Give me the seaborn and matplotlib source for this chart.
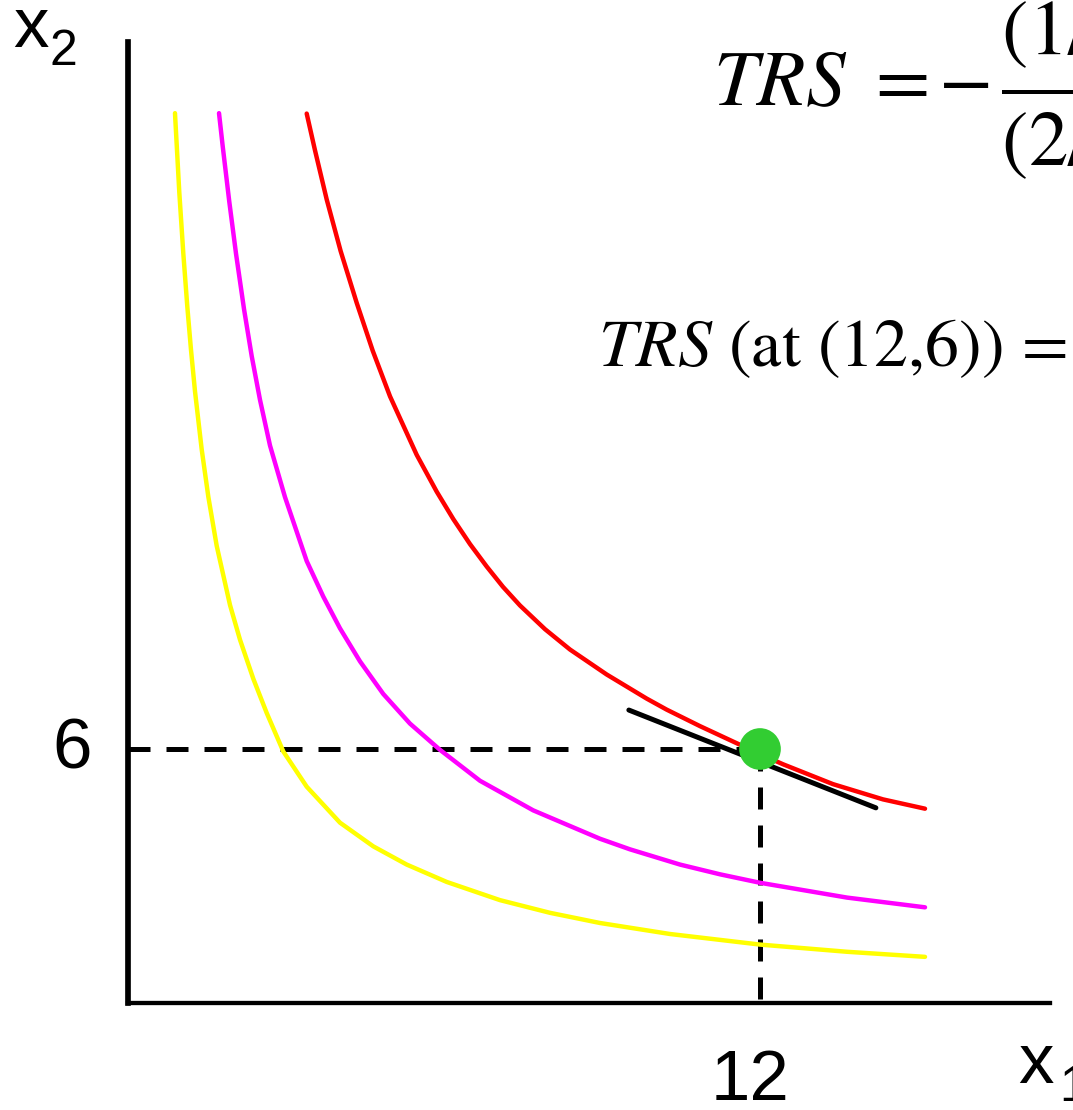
import matplotlib
matplotlib.use("Agg")
import matplotlib.pyplot as plt
from matplotlib.transforms import ScaledTranslation
import seaborn as sns
import pandas as pd

# Isoquants as (x1, x2) points along each curve
yellow_x1 = [0.892, 0.974, 1.050, 1.126, 1.196, 1.272, 1.399, 1.525, 1.684, 1.937,
             2.127, 2.379, 2.634, 2.949, 3.393, 4.025, 4.658, 5.292, 6.051, 7.063,
             8.013, 8.962, 10.291, 12.0, 13.652, 15.133]
yellow_x2 = [21.02, 19.15, 17.71, 16.45, 15.43, 14.45, 13.08, 11.96, 10.80, 9.40,
             8.58, 7.66, 6.85, 5.94, 5.11, 4.26, 3.70, 3.27, 2.86, 2.43,
             2.13, 1.89, 1.63, 1.38, 1.21, 1.09]

magenta_x1 = [1.728, 1.798, 1.923, 2.051, 2.203, 2.349, 2.506, 2.696, 2.981, 3.393,
              3.708, 4.025, 4.405, 4.847, 5.354, 5.924, 6.683, 7.695, 8.962, 9.531,
              10.481, 11.240, 12.0, 13.652, 15.133]
magenta_x2 = [21.02, 20.24, 18.93, 17.70, 16.39, 15.28, 14.25, 13.17, 11.95, 10.44,
              9.60, 8.85, 8.07, 7.30, 6.60, 5.98, 5.25, 4.55, 3.88, 3.63,
              3.27, 3.04, 2.84, 2.49, 2.26]

red_x1 = [3.393, 3.551, 3.773, 4.038, 4.342, 4.646, 4.975, 5.481, 5.861, 6.177,
          6.494, 6.811, 7.120, 7.443, 7.918, 8.392, 9.089, 9.849, 10.228, 10.861,
          12.0, 12.436, 13.386, 14.335, 15.133]
red_x2 = [21.01, 20.14, 18.98, 17.76, 16.54, 15.41, 14.33, 12.95, 12.08, 11.43,
          10.84, 10.31, 9.83, 9.39, 8.83, 8.35, 7.76, 7.19, 6.93, 6.54,
          5.88, 5.64, 5.17, 4.81, 4.59]

# Tangent segment at the chosen input bundle
tangent_x1 = [9.51, 14.20]
tangent_x2 = [6.92, 4.61]

point_x1 = 12
point_x2 = 6

xtick_values = [12]
xtick_labels = ["12"]
ytick_values = [6]
ytick_labels = ["6"]

W, H = 1073, 1110
PX_X = 52.667   # pixels per unit of x1
PX_Y = 42.333   # pixels per unit of x2

sns.set_theme(style="white")
plt.rcParams["mathtext.fontset"] = "stix"

fig = plt.figure(figsize=(W / 100, H / 100), dpi=100)
left, right, bottom, top = 128, 1050, 1003, 42
ax = fig.add_axes([left / W, 1 - bottom / H, (right - left) / W, (bottom - top) / H])
ax.set_xlim(0, (right - left) / PX_X)
ax.set_ylim(0, (bottom - top) / PX_Y)

curves = pd.DataFrame({
    "x1": yellow_x1 + magenta_x1 + red_x1,
    "x2": yellow_x2 + magenta_x2 + red_x2,
    "level": ["low"] * len(yellow_x1) + ["mid"] * len(magenta_x1) + ["high"] * len(red_x1),
})
palette = {"low": "#FFFF00", "mid": "#FF00FF", "high": "#FF0000"}
for level, grp in curves.groupby("level", sort=False):
    sns.lineplot(data=grp, x="x1", y="x2", color=palette[level], linewidth=3.2,
                 solid_capstyle="round", solid_joinstyle="round", ax=ax,
                 legend=False, zorder=3)

# Dashed guides to the axes
dash = (0, (4.4, 3.2))
ax.plot([0, point_x1], [point_x2, point_x2], color="black", lw=3.6, linestyle=dash, zorder=2)
ax.plot([point_x1, point_x1], [point_x2, 0], color="black", lw=3.6, linestyle=dash, zorder=2)

sns.lineplot(x=tangent_x1, y=tangent_x2, color="black", linewidth=3.6, ax=ax, zorder=4)
sns.scatterplot(x=[point_x1], y=[point_x2], color="#32CD32", s=30 ** 2, edgecolor="none",
                ax=ax, zorder=5, legend=False)

for side in ("top", "right"):
    ax.spines[side].set_visible(False)
ax.spines["left"].set_linewidth(4.1)
ax.spines["bottom"].set_linewidth(3.1)
ax.spines["left"].set_color("black")
ax.spines["bottom"].set_color("black")

ax.set_xticks(xtick_values)
ax.set_xticklabels(xtick_labels, fontsize=51, family="Liberation Sans", color="black")
ax.set_yticks(ytick_values)
ax.set_yticklabels(ytick_labels, fontsize=51, family="Liberation Sans", color="black")
ax.tick_params(axis="x", length=0, pad=33, labelcolor="black")
ax.tick_params(axis="y", length=0, pad=26, labelcolor="black")
for lab in ax.get_xticklabels():
    lab.set_transform(lab.get_transform() + ScaledTranslation(-0.10, 0, fig.dpi_scale_trans))
for lab in ax.get_yticklabels():
    lab.set_transform(lab.get_transform() + ScaledTranslation(0, 0.06, fig.dpi_scale_trans))
ax.set_xlabel("")
ax.set_ylabel("")


def fx(px):
    return px / W


def fy(py):
    return 1 - py / H


sans = dict(family="Liberation Sans", color="black")
fig.text(fx(13), fy(47), "x", fontsize=51, va="baseline", ha="left", **sans)
fig.text(fx(50), fy(65), "2", fontsize=36, va="baseline", ha="left", **sans)
fig.text(fx(1018), fy(1083), "x", fontsize=51, va="baseline", ha="left", **sans)
fig.text(fx(1059), fy(1101), "1", fontsize=36, va="baseline", ha="left", **sans)

# TRS formula, split so the spacing around "=" and the minus sign can be set
fig.text(fx(713), fy(105), r"$TRS\ =$", fontsize=57, va="baseline", ha="left",
         color="black")
fig.text(fx(938), fy(105),
         r"$-\,\dfrac{(1/3)\,x_1^{-2/3}\,x_2^{2/3}}{(2/3)\,x_1^{1/3}\,x_2^{-1/3}}$",
         fontsize=57, va="baseline", ha="left", color="black")
fig.text(fx(598), fy(367), r"$TRS$ (at (12,6)) = $-\dfrac{1}{4}$",
         fontsize=49, va="baseline", ha="left", family="STIXGeneral", color="black")

fig.savefig("out.png", dpi=100, facecolor="white")
